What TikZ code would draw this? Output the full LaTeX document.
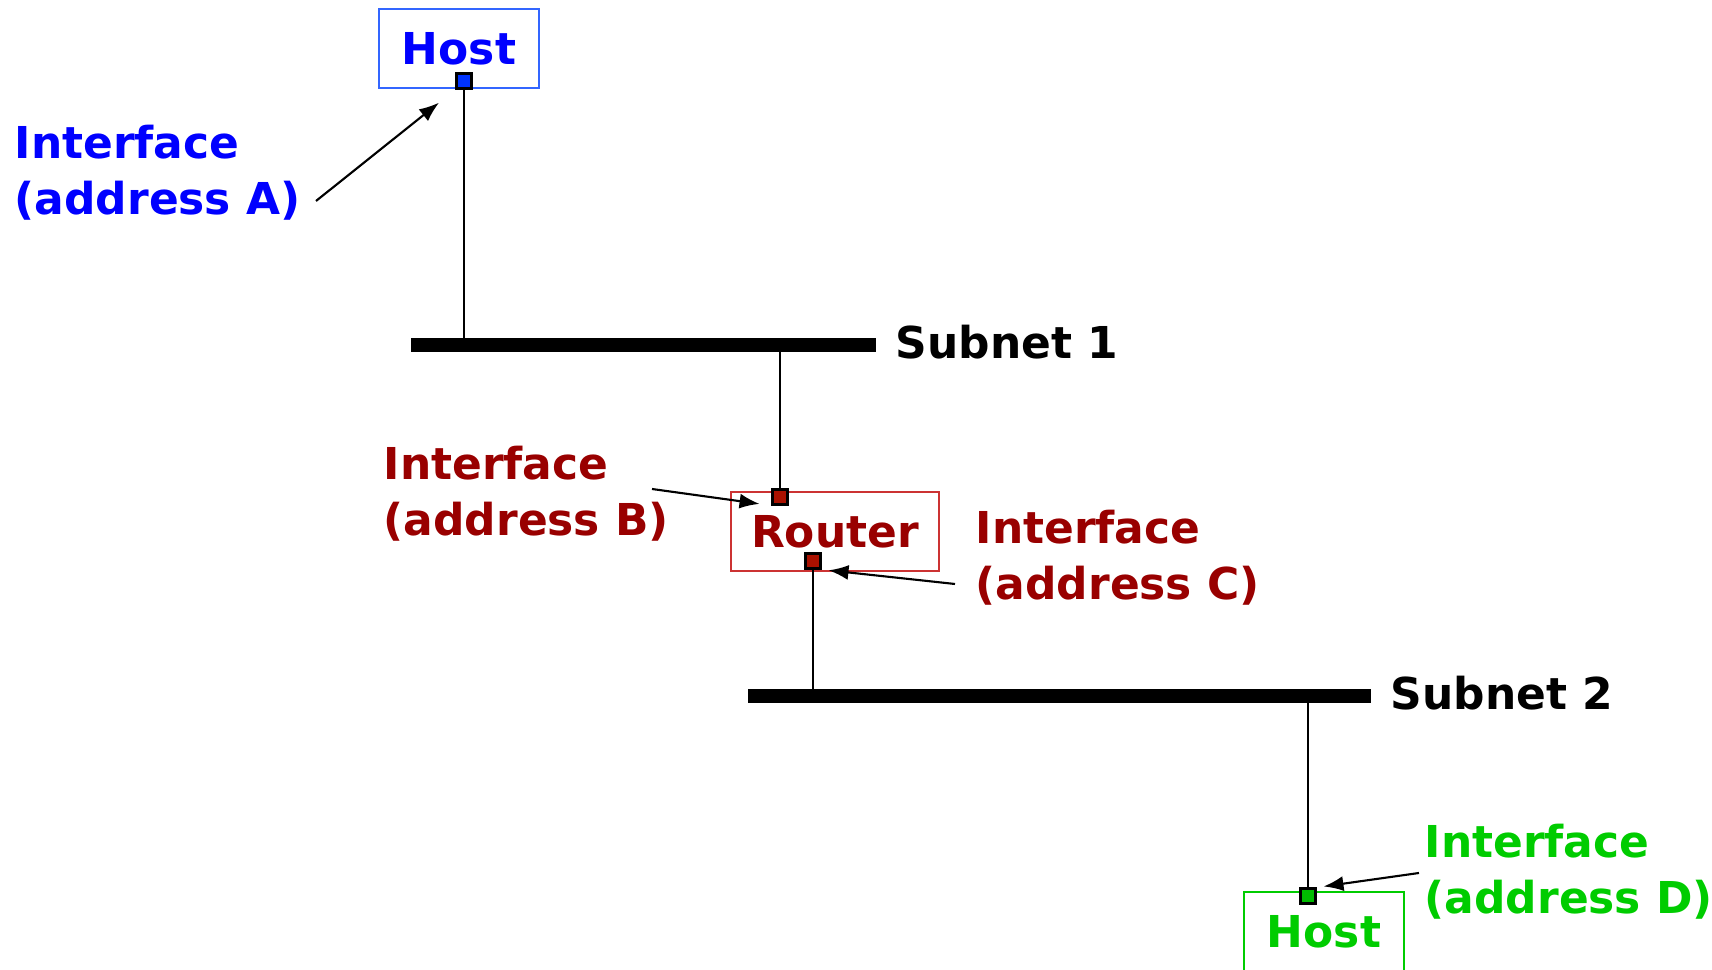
\documentclass[tikz,border=0pt]{standalone}
\usepackage{fontspec}
\setmainfont{DejaVu Sans}
\usetikzlibrary{arrows.meta}
\definecolor{hostblue}{RGB}{0,0,255}
\definecolor{hostblueline}{RGB}{51,102,255}
\definecolor{hostbluefill}{RGB}{0,51,255}
\definecolor{routerred}{RGB}{153,0,0}
\definecolor{routerredline}{RGB}{204,51,51}
\definecolor{routerredfill}{RGB}{170,17,0}
\definecolor{hostgreen}{RGB}{0,204,0}
\definecolor{hostgreenfill}{RGB}{0,187,0}
\tikzset{
  lbl/.style={font=\fontsize{12.5}{16}\selectfont\bfseries, align=left, anchor=west, inner sep=0pt},
  devbox/.style={draw, line width=0.6pt, minimum height=7.9mm, inner sep=0pt,
    font=\fontsize{12.5}{16}\selectfont\bfseries},
  port/.style={draw=black, line width=0.6pt, minimum size=1.5mm, inner sep=0pt},
  bus/.style={line width=1.4mm},
  wire/.style={line width=0.6pt}
}
\begin{document}
\begin{tikzpicture}[x=0.1mm, y=-0.1mm, >={Latex[length=2mm,width=1.5mm]}]
\useasboundingbox (0,0) rectangle (1712,970);
%%%%%%%%%%%%%%%%%%%%%%%%%%%%%%% hosts, router and subnets
\node[devbox, draw=hostblueline, text=hostblue, minimum width=16mm](hostA) at (459,48.5){Host};
\node[devbox, draw=routerredline, text=routerred, minimum width=20.8mm](router) at (835,531.5){Router};
\node[devbox, draw=hostgreen, text=hostgreen, minimum width=16mm](hostD) at (1324,931.5){Host};
\coordinate(bar1w) at (411,345);
\coordinate(bar1e) at (876,345);
\coordinate(bar2w) at (748,696);
\coordinate(bar2e) at (1371,696);
\draw[bus] (bar1w) -- (bar1e);
\draw[bus] (bar2w) -- (bar2e);
\node[lbl](subnet1) at (895,342){Subnet 1};
\node[lbl](subnet2) at (1390,693){Subnet 2};
%%%%%%%%%%%%%%%%%%%%%%%%%%%%%%% interfaces
\node[port, fill=hostbluefill](ifA) at (464,81){};
\node[port, fill=routerredfill](ifB) at (780,497){};
\node[port, fill=routerredfill](ifC) at (813,561){};
\node[port, fill=hostgreenfill](ifD) at (1308,896){};
\draw[wire] (ifA.south) -- (ifA.south |- bar1w);
\draw[wire] (ifB.north) -- (ifB.north |- bar1w);
\draw[wire] (ifC.south) -- (ifC.south |- bar2w);
\draw[wire] (ifD.north) -- (ifD.north |- bar2w);
%%%%%%%%%%%%%%%%%%%%%%%%%%%%%%% labels
\node[lbl, text=hostblue](labA) at (14,173){Interface\\(address A)};
\node[lbl, text=routerred](labB) at (383,494){Interface\\(address B)};
\node[lbl, text=routerred](labC) at (975,558){Interface\\(address C)};
\node[lbl, text=hostgreen](labD) at (1424,872){Interface\\(address D)};
\coordinate(tailA) at (316,201);
\coordinate(tailB) at (652,489);
\coordinate(tailC) at (955,584);
\coordinate(tailD) at (1419,873);
\draw[->, wire, shorten >=2.1mm] (tailA) -- (ifA.south west);
\draw[->, wire, shorten >=1.2mm] (tailB) -- (ifB.south west);
\draw[->, wire, shorten >=0.7mm] (tailC) -- (ifC.south east);
\draw[->, wire, shorten >=0.7mm] (tailD) -- (ifD.north east);
\end{tikzpicture}
\end{document}
